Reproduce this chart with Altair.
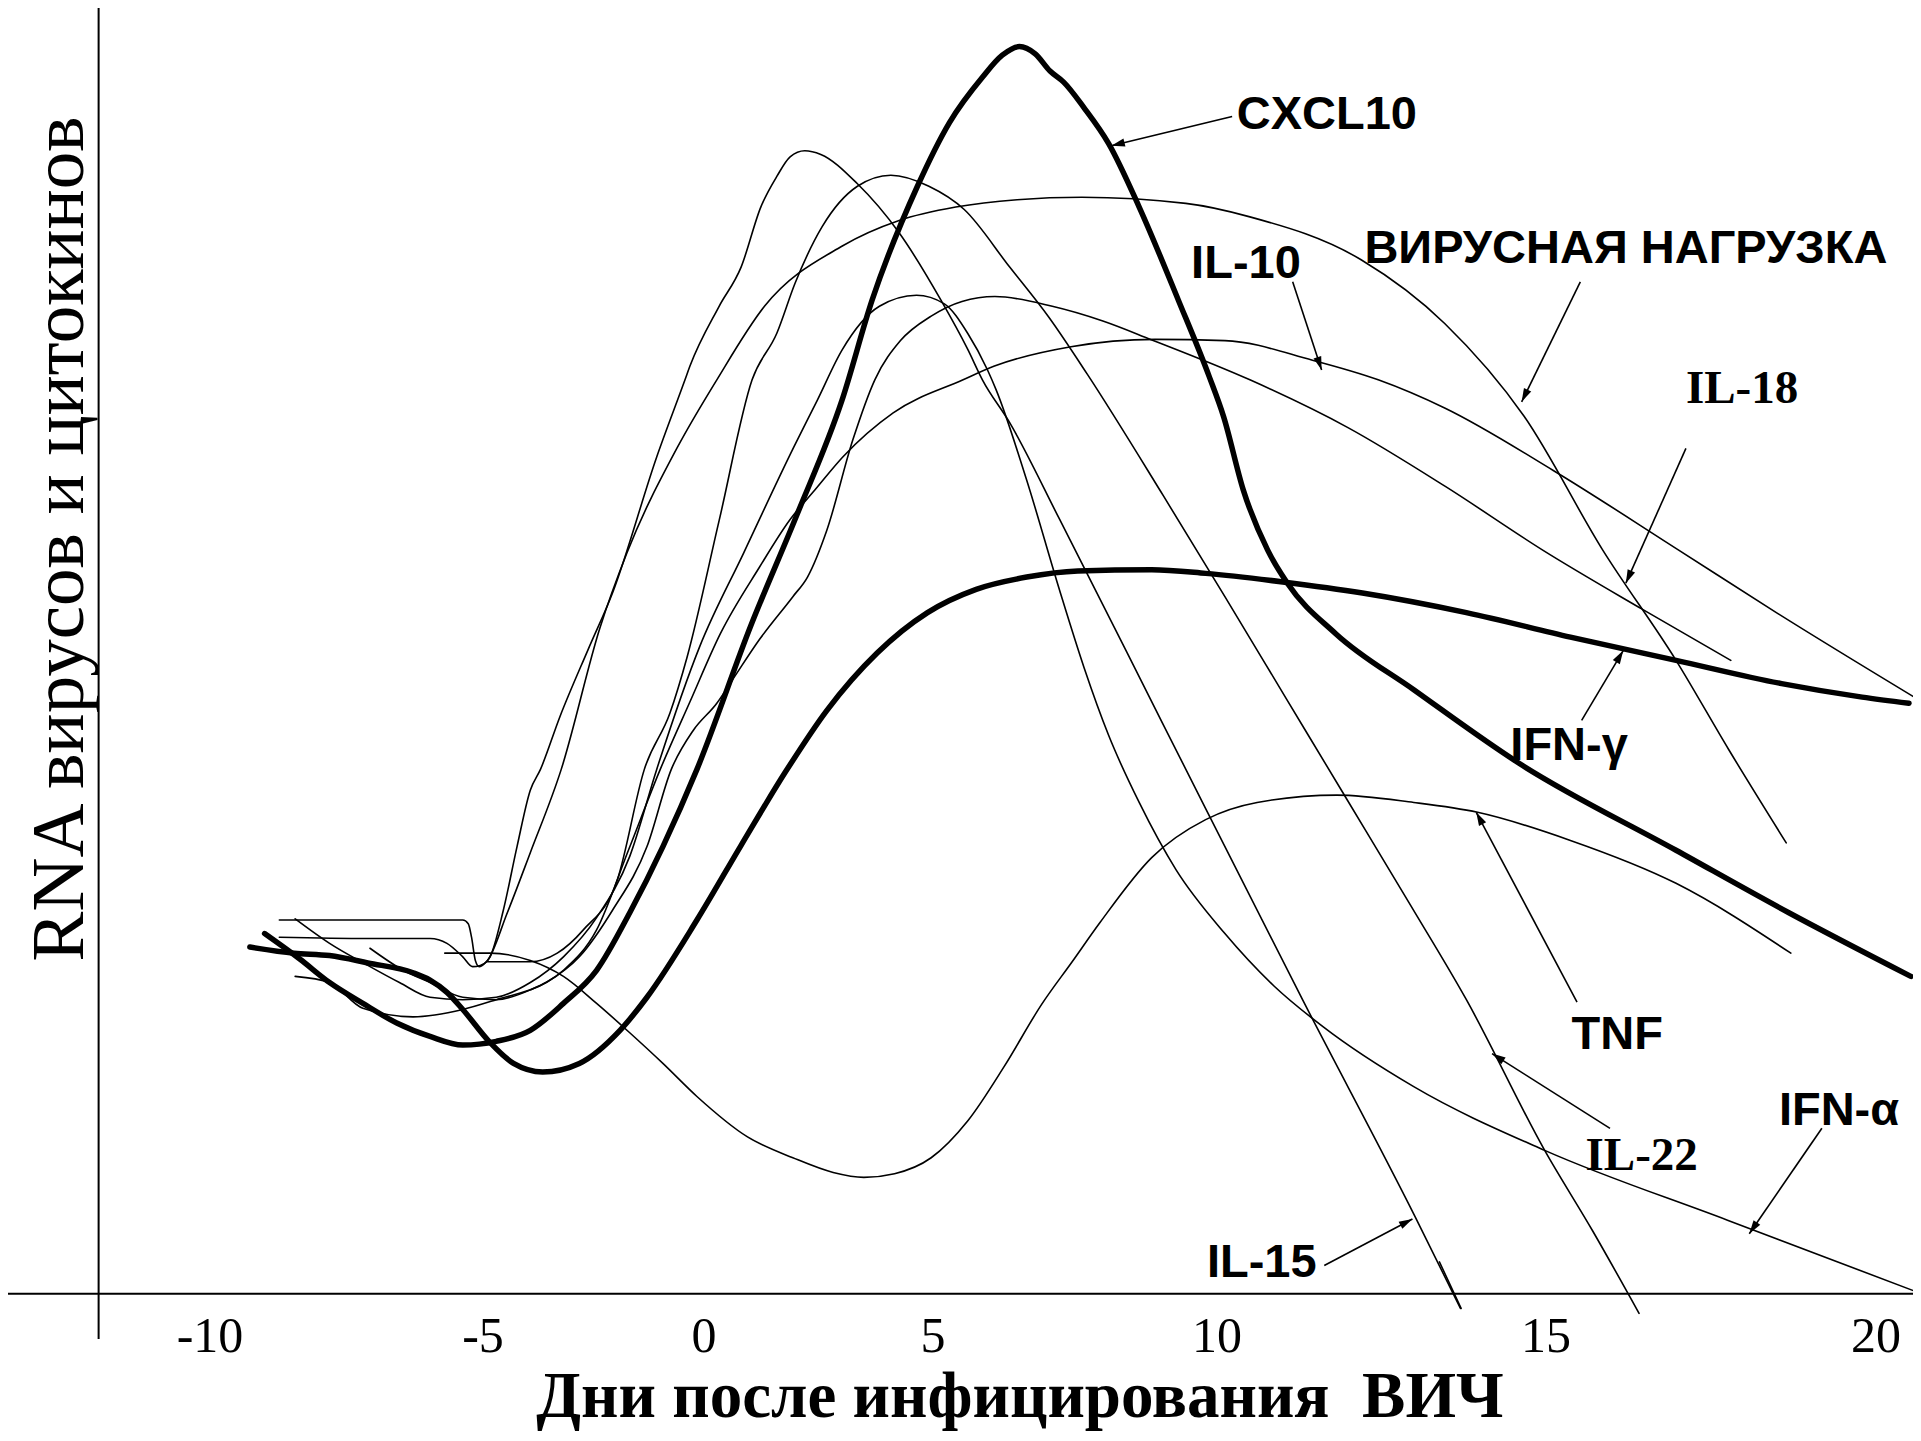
import altair as alt
import pandas as pd

# ---------------- data ----------------
TICK_DAYS = [-10, -5, 0, 5, 10, 15, 20]
TICK_TEXT = ["-10", "-5", "0", "5", "10", "15", "20"]

cxcl10_day = [-9.00, -8.35, -7.81, -7.20, -6.58, -5.97, -5.37, -4.70, -3.93, -3.18, -2.43, -1.68, -0.93, -0.16,
              1.03, 2.02, 3.01, 3.67, 4.66, 5.29, 5.87, 6.22, 6.52, 6.80, 7.06, 7.30, 7.66, 8.09, 8.63, 9.32,
              9.86, 10.10, 10.40, 10.77, 11.07, 11.80, 12.99, 14.59, 16.97, 18.68, 20.53]
cxcl10_val = [29.4, 27.3, 25.4, 23.7, 22.1, 21.0, 20.3, 20.6, 21.5, 23.7, 26.4, 31.1, 36.5, 42.8,
              54.6, 63.5, 72.9, 81.1, 90.4, 95.6, 99.3, 101.1, 101.8, 101.2, 99.8, 98.9, 96.8, 93.9, 88.7, 81.1,
              74.9, 71.6, 65.6, 60.7, 58.0, 53.9, 49.3, 43.3, 36.2, 31.1, 25.9]

ifng_day = [-9.27, -8.46, -7.81, -7.11, -6.28, -5.97, -5.66, -5.37, -4.84, -4.31, -3.65, -2.82, -1.90, -1.29,
            -0.16, 0.81, 1.78, 2.68, 3.78, 4.88, 5.76, 6.65, 7.55, 8.85, 9.80, 11.00, 12.21, 13.79, 15.37,
            16.97, 18.57, 19.79, 20.50]
ifng_val = [28.3, 27.8, 27.6, 27.0, 26.2, 25.6, 24.6, 23.2, 20.5, 18.8, 18.1, 18.8, 21.5, 24.2,
            30.5, 36.6, 42.6, 47.6, 52.3, 55.6, 57.5, 58.5, 59.0, 59.1, 58.8, 58.1, 57.2, 55.6, 53.6,
            51.7, 49.8, 48.7, 48.2]

il15_day = [-8.73, -7.11, -5.37, -5.27, -5.21, -5.14, -5.07, -4.95, -4.84, -4.54, -4.23, -3.93, -3.70, -3.26,
            -2.62, -2.07, -1.07, -0.43, -0.32, 0.33, 0.81, 1.24, 1.59, 1.88, 2.20, 2.55, 3.35, 4.26, 5.14, 5.61,
            5.87, 6.35, 7.23, 9.06, 11.30, 13.01, 13.70]
il15_val = [30.5, 30.5, 30.5, 30.2, 29.1, 27.2, 26.7, 27.0, 27.5, 31.3, 36.5, 41.1, 42.8, 47.1,
            52.6, 57.2, 68.3, 74.6, 75.7, 80.6, 83.8, 88.7, 91.2, 92.8, 93.3, 93.0, 90.6, 86.6, 81.1, 77.1,
            74.6, 71.1, 63.2, 46.4, 24.0, 6.3, -1.2]

il15b_day = [13.38, 13.71]
il15b_val = [2.6, -1.2]

viral_day = [-8.73, -7.11, -5.97, -5.66, -5.37, -5.19, -5.05, -4.92, -4.45, -3.93, -3.23, -2.35, -1.74, -0.60,
             0.28, 1.32, 3.01, 4.26, 5.40, 6.48, 7.62, 9.45, 10.50, 12.19, 13.46, 14.67, 15.86, 16.97, 17.77, 18.64]
viral_val = [29.1, 29.0, 29.0, 28.6, 27.5, 26.7, 26.8, 27.1, 31.1, 36.0, 42.8, 54.4, 60.5, 69.1,
             74.6, 80.6, 85.5, 87.6, 88.7, 89.3, 89.5, 89.0, 87.9, 84.4, 79.2, 71.6, 60.7, 51.7, 44.4, 36.8]

il22_day = [-4.92, -3.93, -3.32, -2.73, -1.96, -1.35, -0.77, -0.38, 0.33, 1.05, 1.59, 1.99, 2.58, 3.35, 4.08,
            4.91, 5.55, 6.35, 7.04, 7.71, 9.06, 10.12, 11.05, 11.98, 12.92, 13.79, 14.98, 15.71, 16.41]
il22_val = [27.1, 27.1, 27.8, 29.7, 33.8, 42.8, 47.4, 52.0, 63.1, 74.6, 78.4, 82.5, 87.1, 90.4, 91.3,
            90.4, 88.5, 83.8, 79.7, 75.1, 65.1, 56.9, 48.6, 40.3, 31.9, 24.0, 11.7, 5.1, -1.6]

ifna_day = [-8.44, -7.81, -7.11, -6.53, -5.97, -5.37, -4.70, -3.93, -3.18, -2.43, -1.68, -1.07, -0.10, 0.87,
            1.96, 2.47, 3.01, 3.83, 4.64, 5.20, 5.61, 5.96, 6.11, 6.65, 7.23, 7.66, 8.09, 8.63, 9.28, 10.12,
            10.87, 11.61, 12.99, 14.98, 17.75, 20.64]
ifna_val = [30.6, 28.6, 26.8, 25.4, 24.2, 24.0, 24.2, 25.4, 27.5, 30.7, 35.7, 42.8, 52.8, 60.5,
            69.1, 72.9, 77.0, 80.6, 81.5, 80.8, 78.4, 75.4, 73.8, 66.4, 57.4, 51.1, 45.6, 40.1, 34.6, 29.4,
            25.1, 21.8, 16.9, 11.7, 6.0, 0.1]

il10_day = [-7.07, -6.46, -5.97, -5.37, -4.70, -3.93, -3.18, -2.43, -1.71, -0.99, -0.32, 0.36, 1.21, 1.88,
            2.42, 3.03, 4.13, 5.53, 6.07, 7.43, 8.91, 10.12, 11.45, 12.45, 13.46, 15.11, 17.01, 18.49, 20.64]
il10_val = [28.2, 26.4, 25.4, 24.2, 24.0, 24.8, 26.4, 29.7, 36.2, 42.8, 48.3, 53.9, 59.3, 63.2,
            65.6, 68.3, 71.9, 74.6, 75.7, 77.3, 77.9, 77.8, 76.2, 74.6, 72.3, 67.2, 60.7, 55.6, 48.5]

il18_day = [-8.44, -7.81, -7.20, -6.28, -5.37, -4.70, -3.57, -2.82, -2.07, -1.29, -0.74, -0.24, 0.28, 0.62,
            1.21, 1.94, 2.26, 2.68, 3.25, 3.73, 4.29, 4.96, 5.51, 6.09, 7.10, 7.99, 8.83, 10.50, 11.99, 13.47,
            14.95, 16.45, 17.80]
il18_val = [25.9, 25.4, 23.3, 22.6, 23.2, 24.0, 25.4, 27.5, 31.3, 36.5, 42.8, 46.0, 48.2, 50.1,
            53.4, 56.9, 58.5, 62.3, 69.7, 74.6, 77.8, 79.8, 81.0, 81.4, 80.6, 79.4, 77.9, 74.6, 70.7, 65.9,
            60.7, 55.9, 51.7]

tnf_day = [-5.70, -4.84, -3.93, -3.18, -2.43, -1.68, -0.93, -0.16, 0.95, 1.94, 2.82, 3.49, 4.16, 4.96,
           5.61, 6.26, 6.91, 7.45, 7.94, 8.85, 9.80, 10.61, 11.82, 12.99, 13.96, 15.37, 16.97, 18.71]
tnf_val = [27.8, 27.8, 27.2, 25.9, 23.7, 21.3, 18.8, 16.1, 12.8, 11.1, 9.9, 9.5, 9.8, 11.1,
           14.1, 18.6, 23.6, 27.1, 30.3, 35.6, 38.7, 40.1, 40.7, 40.1, 39.3, 37.0, 33.5, 27.8]

# annotation arrows: label side -> tip on the curve
arrow_name = ["CXCL10", "IL-10", "VL", "IL-18", "IFN-γ", "TNF", "IL-22", "IFN-α", "IL-15"]
arrow_day0 = [10.23, 11.15, 15.52, 17.12, 15.54, 15.47, 15.97, 19.18, 11.63]
arrow_val0 = [96.1, 82.6, 82.6, 69.0, 46.8, 23.8, 13.5, 13.5, 2.3]
arrow_day1 = [8.14, 11.59, 14.63, 16.21, 16.17, 13.94, 14.18, 18.08, 12.97]
arrow_val1 = [93.7, 75.4, 72.8, 58.0, 52.5, 39.3, 19.6, 4.9, 6.1]
arrow_angle = [255.7, 161.6, 206.1, 204.0, 30.8, 332.1, 302.4, 214.5, 62.2]

sans_text = ["CXCL10", "IL-10", "ВИРУСНАЯ НАГРУЗКА", "IFN-γ", "TNF", "IFN-α", "IL-15"]
sans_day = [11.67, 10.44, 16.21, 15.35, 16.08, 19.44, 10.68]
sans_val = [95.1, 82.9, 84.1, 43.6, 20.0, 13.8, 1.4]
serif_text = ["IL-18", "IL-22"]
serif_day = [17.97, 16.45]
serif_val = [72.7, 10.1]

# ---------------- tables ----------------
thin = {
    "IL-15": (il15_day, il15_val), "IL-15b": (il15b_day, il15b_val),
    "VL": (viral_day, viral_val), "IL-22": (il22_day, il22_val),
    "IFN-α": (ifna_day, ifna_val), "IL-10": (il10_day, il10_val),
    "IL-18": (il18_day, il18_val), "TNF": (tnf_day, tnf_val),
}
thick = {"CXCL10": (cxcl10_day, cxcl10_val), "IFN-γ": (ifng_day, ifng_val)}


def to_df(d):
    rows = []
    for name, (xs_, ys_) in d.items():
        for i, (a, b) in enumerate(zip(xs_, ys_)):
            rows.append({"series": name, "day": a, "val": b, "i": i})
    return pd.DataFrame(rows)


thin_df = to_df(thin)
thick_df = to_df(thick)
arrows_df = pd.DataFrame({"name": arrow_name, "d0": arrow_day0, "v0": arrow_val0,
                          "d1": arrow_day1, "v1": arrow_val1, "ang": arrow_angle})
sans_df = pd.DataFrame({"t": sans_text, "day": sans_day, "val": sans_val})
serif_df = pd.DataFrame({"t": serif_text, "day": serif_day, "val": serif_val})
ticks_df = pd.DataFrame({"day": TICK_DAYS, "t": TICK_TEXT, "val": [-4.76] * len(TICK_DAYS)})

# ---------------- scales (layout) ----------------
W, H = 1905, 1425
xs = alt.Scale(domain=TICK_DAYS, range=[202, 475, 696, 925, 1209, 1538, 1868], zero=False, nice=False)
ys = alt.Scale(domain=[-11.37, 104.95], zero=False, nice=False)


def X(f):
    return alt.X(f"{f}:Q", scale=xs, axis=None)


def Y(f):
    return alt.Y(f"{f}:Q", scale=ys, axis=None)


thin_layer = alt.Chart(thin_df).mark_line(
    color="black", strokeWidth=1.6, interpolate="monotone", strokeCap="round"
).encode(x=X("day"), y=Y("val"), detail="series:N", order="i:Q")

thick_layer = alt.Chart(thick_df).mark_line(
    color="black", strokeWidth=5.5, interpolate="monotone", strokeCap="round", strokeJoin="round"
).encode(x=X("day"), y=Y("val"), detail="series:N", order="i:Q")

h_axis = alt.Chart(pd.DataFrame({"val": [0]})).mark_rule(color="black", strokeWidth=2).encode(
    y=Y("val"), x=alt.value(0), x2=alt.value(W))
v_axis = alt.Chart(pd.DataFrame({"day": [-12.04], "val": [-3.7]})).mark_rule(color="black", strokeWidth=2).encode(
    x=X("day"), y=Y("val"), y2=alt.value(0))

shafts = alt.Chart(arrows_df).mark_rule(color="black", strokeWidth=1.6).encode(
    x=X("d0"), y=Y("v0"), x2="d1:Q", y2="v1:Q")
heads = alt.Chart(arrows_df).mark_point(
    shape="M0,0L-0.9,3L0.9,3Z", filled=True, size=81, color="black", opacity=1, strokeWidth=0
).encode(x=X("d1"), y=Y("v1"), angle=alt.Angle("ang:Q", scale=None))

sans_layer = alt.Chart(sans_df).mark_text(
    font="Liberation Sans", fontWeight="bold", fontSize=47, color="black", align="center", baseline="alphabetic"
).encode(x=X("day"), y=Y("val"), text="t:N")
serif_layer = alt.Chart(serif_df).mark_text(
    font="Liberation Serif", fontWeight="bold", fontSize=47, color="black", align="center", baseline="alphabetic"
).encode(x=X("day"), y=Y("val"), text="t:N")

tick_layer = alt.Chart(ticks_df).mark_text(
    font="Liberation Serif", fontSize=50, color="black", align="center", baseline="alphabetic"
).encode(x=X("day"), y=Y("val"), text="t:N")

x_title = alt.Chart(pd.DataFrame({"t": ["Дни после инфицирования\u00a0 ВИЧ"]})).mark_text(
    font="Liberation Serif", fontWeight="bold", fontSize=65, color="black", align="center", baseline="alphabetic"
).encode(text="t:N", x=alt.value(1012), y=alt.value(1409))

y_title = alt.Chart(pd.DataFrame({"t": ["RNA вирусов и цитокинов"]})).mark_text(
    font="Liberation Serif", fontSize=75, color="black", align="center", baseline="middle", angle=270
).encode(text="t:N", x=alt.value(52), y=alt.value(531))

chart = alt.layer(
    h_axis, v_axis, thin_layer, thick_layer, shafts, heads,
    sans_layer, serif_layer, tick_layer, x_title, y_title
).properties(
    width=W, height=H, padding=0, autosize="none", background="white"
).configure_view(stroke=None)

chart.save("out.html", embed_options={"renderer": "svg", "actions": False})
